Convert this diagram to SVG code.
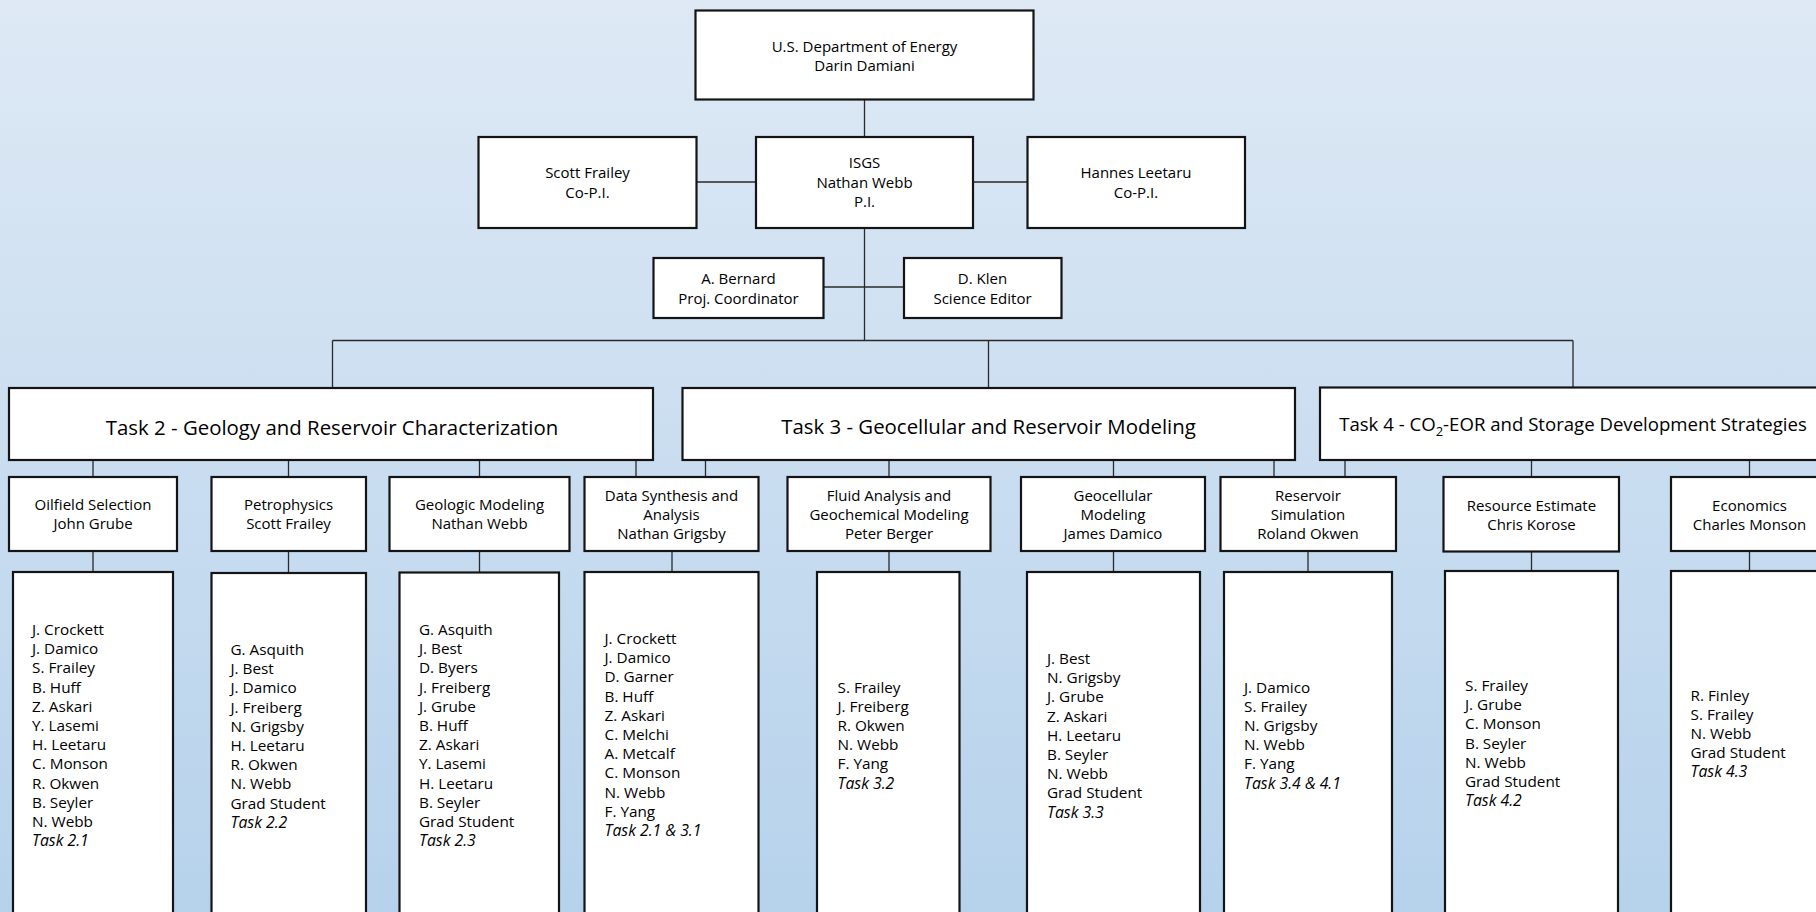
<svg xmlns="http://www.w3.org/2000/svg" width="1816" height="912" viewBox="0 0 1816 912">
  <defs>
    <linearGradient id="bg" x1="0" y1="0" x2="0" y2="1">
      <stop offset="0" stop-color="#dee9f5"/>
      <stop offset="1" stop-color="#b6d2eb"/>
    </linearGradient>
    <style>
      .box { fill: #ffffff; stroke: #141414; stroke-width: 2.2; }
      .wire { stroke: #2a2a2a; stroke-width: 1.3; fill: none; }
      text { font-family: "Open Sans", "Noto Sans", sans-serif; fill: #000000; }
      .lbl { font-size: 15px; text-anchor: middle; }
      .title { font-size: 20.4px; text-anchor: middle; }
      .title4 { font-size: 18.6px; text-anchor: middle; }
      .list { font-size: 15.3px; }
      .task { font-style: italic; font-size: 15.8px; }
    </style>
  </defs>

  <rect x="0" y="0" width="1816" height="912" fill="url(#bg)"/>

  <!-- connectors -->
  <g id="connectors" class="wire">
    <path d="M864.5 99.5 V137 M864.5 228 V340.5"/>
    <path d="M696.5 182 H756 M973 182 H1027.5"/>
    <path d="M823.5 287 H904"/>
    <path d="M332.5 340.5 H1573"/>
    <path d="M332.5 340.5 V388 M988.5 340.5 V388 M1573 340.5 V387.5"/>
    <!-- task bars to work packages -->
    <path d="M93 460 V477 M288.5 460 V477 M479.5 460 V477 M636 460 V477"/>
    <path d="M705.5 460 V477 M889 460 V477 M1113.5 460 V477 M1274 460 V477"/>
    <path d="M1345 460 V477 M1531.5 460 V477 M1749.5 460 V477"/>
    <!-- work packages to staff lists -->
    <path d="M93 551 V572 M288.5 551 V572 M479.5 551 V572 M672 551 V572 M889 551 V572 M1113.5 551 V572 M1308 551 V572 M1531.5 551 V572 M1749.5 551 V572"/>
  </g>

  <!-- management -->
  <g id="doe">
    <rect class="box" x="695.5" y="10.5" width="338" height="89"/>
    <text class="lbl"><tspan x="864.5" y="52">U.S. Department of Energy</tspan><tspan x="864.5" y="71">Darin Damiani</tspan></text>
  </g>
  <g id="frailey">
    <rect class="box" x="478.5" y="137" width="218" height="91"/>
    <text class="lbl"><tspan x="587.5" y="178">Scott Frailey</tspan><tspan x="587.5" y="198">Co-P.I.</tspan></text>
  </g>
  <g id="isgs">
    <rect class="box" x="756" y="137" width="217" height="91"/>
    <text class="lbl"><tspan x="864.5" y="168">ISGS</tspan><tspan x="864.5" y="188">Nathan Webb</tspan><tspan x="864.5" y="207">P.I.</tspan></text>
  </g>
  <g id="leetaru">
    <rect class="box" x="1027.5" y="137" width="217.5" height="91"/>
    <text class="lbl"><tspan x="1136" y="178">Hannes Leetaru</tspan><tspan x="1136" y="198">Co-P.I.</tspan></text>
  </g>
  <g id="bernard">
    <rect class="box" x="653.5" y="258" width="170" height="60"/>
    <text class="lbl"><tspan x="738.5" y="284">A. Bernard</tspan><tspan x="738.5" y="304">Proj. Coordinator</tspan></text>
  </g>
  <g id="klen">
    <rect class="box" x="904" y="258" width="157.5" height="60"/>
    <text class="lbl"><tspan x="982.5" y="284">D. Klen</tspan><tspan x="982.5" y="304">Science Editor</tspan></text>
  </g>

  <!-- task bars -->
  <g id="task2">
    <rect class="box" x="9" y="388" width="644" height="72"/>
    <text class="title" x="332" y="434.5">Task 2 - Geology and Reservoir Characterization</text>
  </g>
  <g id="task3">
    <rect class="box" x="682.5" y="388" width="612.5" height="72"/>
    <text class="title" x="988.5" y="433.5">Task 3 - Geocellular and Reservoir Modeling</text>
  </g>
  <g id="task4">
    <rect class="box" x="1320" y="387.5" width="520" height="72.5"/>
    <text class="title4" x="1573" y="431">Task 4 - CO<tspan font-size="13px" dy="5">2</tspan><tspan dy="-5">-EOR and Storage Development Strategies</tspan></text>
  </g>

  <!-- work packages -->
  <g id="wp-oilfield">
    <rect class="box" x="9" y="477" width="168" height="74"/>
    <text class="lbl"><tspan x="93" y="510">Oilfield Selection</tspan><tspan x="93" y="529">John Grube</tspan></text>
  </g>
  <g id="wp-petro">
    <rect class="box" x="211.5" y="477" width="154.5" height="74"/>
    <text class="lbl"><tspan x="288.5" y="510">Petrophysics</tspan><tspan x="288.5" y="529">Scott Frailey</tspan></text>
  </g>
  <g id="wp-geomod">
    <rect class="box" x="389.5" y="477" width="180" height="74"/>
    <text class="lbl"><tspan x="479.5" y="510">Geologic Modeling</tspan><tspan x="479.5" y="529">Nathan Webb</tspan></text>
  </g>
  <g id="wp-synthesis">
    <rect class="box" x="584.5" y="477" width="174" height="74"/>
    <text class="lbl"><tspan x="671.5" y="501">Data Synthesis and</tspan><tspan x="671.5" y="520">Analysis</tspan><tspan x="671.5" y="538.5">Nathan Grigsby</tspan></text>
  </g>
  <g id="wp-fluid">
    <rect class="box" x="787.5" y="477" width="203" height="74"/>
    <text class="lbl"><tspan x="889" y="501">Fluid Analysis and</tspan><tspan x="889" y="520">Geochemical Modeling</tspan><tspan x="889" y="538.5">Peter Berger</tspan></text>
  </g>
  <g id="wp-geocell">
    <rect class="box" x="1021" y="477" width="184" height="74"/>
    <text class="lbl"><tspan x="1113" y="501">Geocellular</tspan><tspan x="1113" y="520">Modeling</tspan><tspan x="1113" y="538.5">James Damico</tspan></text>
  </g>
  <g id="wp-sim">
    <rect class="box" x="1220.5" y="477" width="175.5" height="74"/>
    <text class="lbl"><tspan x="1308" y="501">Reservoir</tspan><tspan x="1308" y="520">Simulation</tspan><tspan x="1308" y="538.5">Roland Okwen</tspan></text>
  </g>
  <g id="wp-resource">
    <rect class="box" x="1443.5" y="477" width="175.5" height="74.5"/>
    <text class="lbl"><tspan x="1531.5" y="511">Resource Estimate</tspan><tspan x="1531.5" y="530">Chris Korose</tspan></text>
  </g>
  <g id="wp-econ">
    <rect class="box" x="1671" y="477" width="200" height="74"/>
    <text class="lbl"><tspan x="1749.5" y="511">Economics</tspan><tspan x="1749.5" y="530">Charles Monson</tspan></text>
  </g>

  <!-- staff lists -->
  <g id="staff-2-1">
    <rect class="box" x="13" y="572" width="160" height="360"/>
    <text class="list"><tspan x="32" y="635">J. Crockett</tspan><tspan x="32" dy="19.2">J. Damico</tspan><tspan x="32" dy="19.2">S. Frailey</tspan><tspan x="32" dy="19.2">B. Huff</tspan><tspan x="32" dy="19.2">Z. Askari</tspan><tspan x="32" dy="19.2">Y. Lasemi</tspan><tspan x="32" dy="19.2">H. Leetaru</tspan><tspan x="32" dy="19.2">C. Monson</tspan><tspan x="32" dy="19.2">R. Okwen</tspan><tspan x="32" dy="19.2">B. Seyler</tspan><tspan x="32" dy="19.2">N. Webb</tspan><tspan x="32" dy="19.2" class="task">Task 2.1</tspan></text>
  </g>
  <g id="staff-2-2">
    <rect class="box" x="211.5" y="573" width="154.5" height="360"/>
    <text class="list"><tspan x="230.5" y="655">G. Asquith</tspan><tspan x="230.5" dy="19.2">J. Best</tspan><tspan x="230.5" dy="19.2">J. Damico</tspan><tspan x="230.5" dy="19.2">J. Freiberg</tspan><tspan x="230.5" dy="19.2">N. Grigsby</tspan><tspan x="230.5" dy="19.2">H. Leetaru</tspan><tspan x="230.5" dy="19.2">R. Okwen</tspan><tspan x="230.5" dy="19.2">N. Webb</tspan><tspan x="230.5" dy="19.2">Grad Student</tspan><tspan x="230.5" dy="19.2" class="task">Task 2.2</tspan></text>
  </g>
  <g id="staff-2-3">
    <rect class="box" x="399.5" y="572.5" width="159.5" height="360"/>
    <text class="list"><tspan x="419" y="635">G. Asquith</tspan><tspan x="419" dy="19.2">J. Best</tspan><tspan x="419" dy="19.2">D. Byers</tspan><tspan x="419" dy="19.2">J. Freiberg</tspan><tspan x="419" dy="19.2">J. Grube</tspan><tspan x="419" dy="19.2">B. Huff</tspan><tspan x="419" dy="19.2">Z. Askari</tspan><tspan x="419" dy="19.2">Y. Lasemi</tspan><tspan x="419" dy="19.2">H. Leetaru</tspan><tspan x="419" dy="19.2">B. Seyler</tspan><tspan x="419" dy="19.2">Grad Student</tspan><tspan x="419" dy="19.2" class="task">Task 2.3</tspan></text>
  </g>
  <g id="staff-3-1">
    <rect class="box" x="584.5" y="572" width="174" height="360"/>
    <text class="list"><tspan x="604.5" y="644">J. Crockett</tspan><tspan x="604.5" dy="19.2">J. Damico</tspan><tspan x="604.5" dy="19.2">D. Garner</tspan><tspan x="604.5" dy="19.2">B. Huff</tspan><tspan x="604.5" dy="19.2">Z. Askari</tspan><tspan x="604.5" dy="19.2">C. Melchi</tspan><tspan x="604.5" dy="19.2">A. Metcalf</tspan><tspan x="604.5" dy="19.2">C. Monson</tspan><tspan x="604.5" dy="19.2">N. Webb</tspan><tspan x="604.5" dy="19.2">F. Yang</tspan><tspan x="604.5" dy="19.2" class="task">Task 2.1 &amp; 3.1</tspan></text>
  </g>
  <g id="staff-3-2">
    <rect class="box" x="817" y="572" width="142.5" height="360"/>
    <text class="list"><tspan x="837.5" y="692.5">S. Frailey</tspan><tspan x="837.5" dy="19.2">J. Freiberg</tspan><tspan x="837.5" dy="19.2">R. Okwen</tspan><tspan x="837.5" dy="19.2">N. Webb</tspan><tspan x="837.5" dy="19.2">F. Yang</tspan><tspan x="837.5" dy="19.2" class="task">Task 3.2</tspan></text>
  </g>
  <g id="staff-3-3">
    <rect class="box" x="1027" y="572" width="173" height="360"/>
    <text class="list"><tspan x="1047" y="664">J. Best</tspan><tspan x="1047" dy="19.2">N. Grigsby</tspan><tspan x="1047" dy="19.2">J. Grube</tspan><tspan x="1047" dy="19.2">Z. Askari</tspan><tspan x="1047" dy="19.2">H. Leetaru</tspan><tspan x="1047" dy="19.2">B. Seyler</tspan><tspan x="1047" dy="19.2">N. Webb</tspan><tspan x="1047" dy="19.2">Grad Student</tspan><tspan x="1047" dy="19.2" class="task">Task 3.3</tspan></text>
  </g>
  <g id="staff-3-4">
    <rect class="box" x="1224" y="572" width="168" height="360"/>
    <text class="list"><tspan x="1244" y="692.5">J. Damico</tspan><tspan x="1244" dy="19.2">S. Frailey</tspan><tspan x="1244" dy="19.2">N. Grigsby</tspan><tspan x="1244" dy="19.2">N. Webb</tspan><tspan x="1244" dy="19.2">F. Yang</tspan><tspan x="1244" dy="19.2" class="task">Task 3.4 &amp; 4.1</tspan></text>
  </g>
  <g id="staff-4-2">
    <rect class="box" x="1445" y="571" width="173" height="360"/>
    <text class="list"><tspan x="1465" y="691">S. Frailey</tspan><tspan x="1465" dy="19.2">J. Grube</tspan><tspan x="1465" dy="19.2">C. Monson</tspan><tspan x="1465" dy="19.2">B. Seyler</tspan><tspan x="1465" dy="19.2">N. Webb</tspan><tspan x="1465" dy="19.2">Grad Student</tspan><tspan x="1465" dy="19.2" class="task">Task 4.2</tspan></text>
  </g>
  <g id="staff-4-3">
    <rect class="box" x="1671" y="571" width="200" height="360"/>
    <text class="list"><tspan x="1690.5" y="700.5">R. Finley</tspan><tspan x="1690.5" dy="19.2">S. Frailey</tspan><tspan x="1690.5" dy="19.2">N. Webb</tspan><tspan x="1690.5" dy="19.2">Grad Student</tspan><tspan x="1690.5" dy="19.2" class="task">Task 4.3</tspan></text>
  </g>
</svg>
